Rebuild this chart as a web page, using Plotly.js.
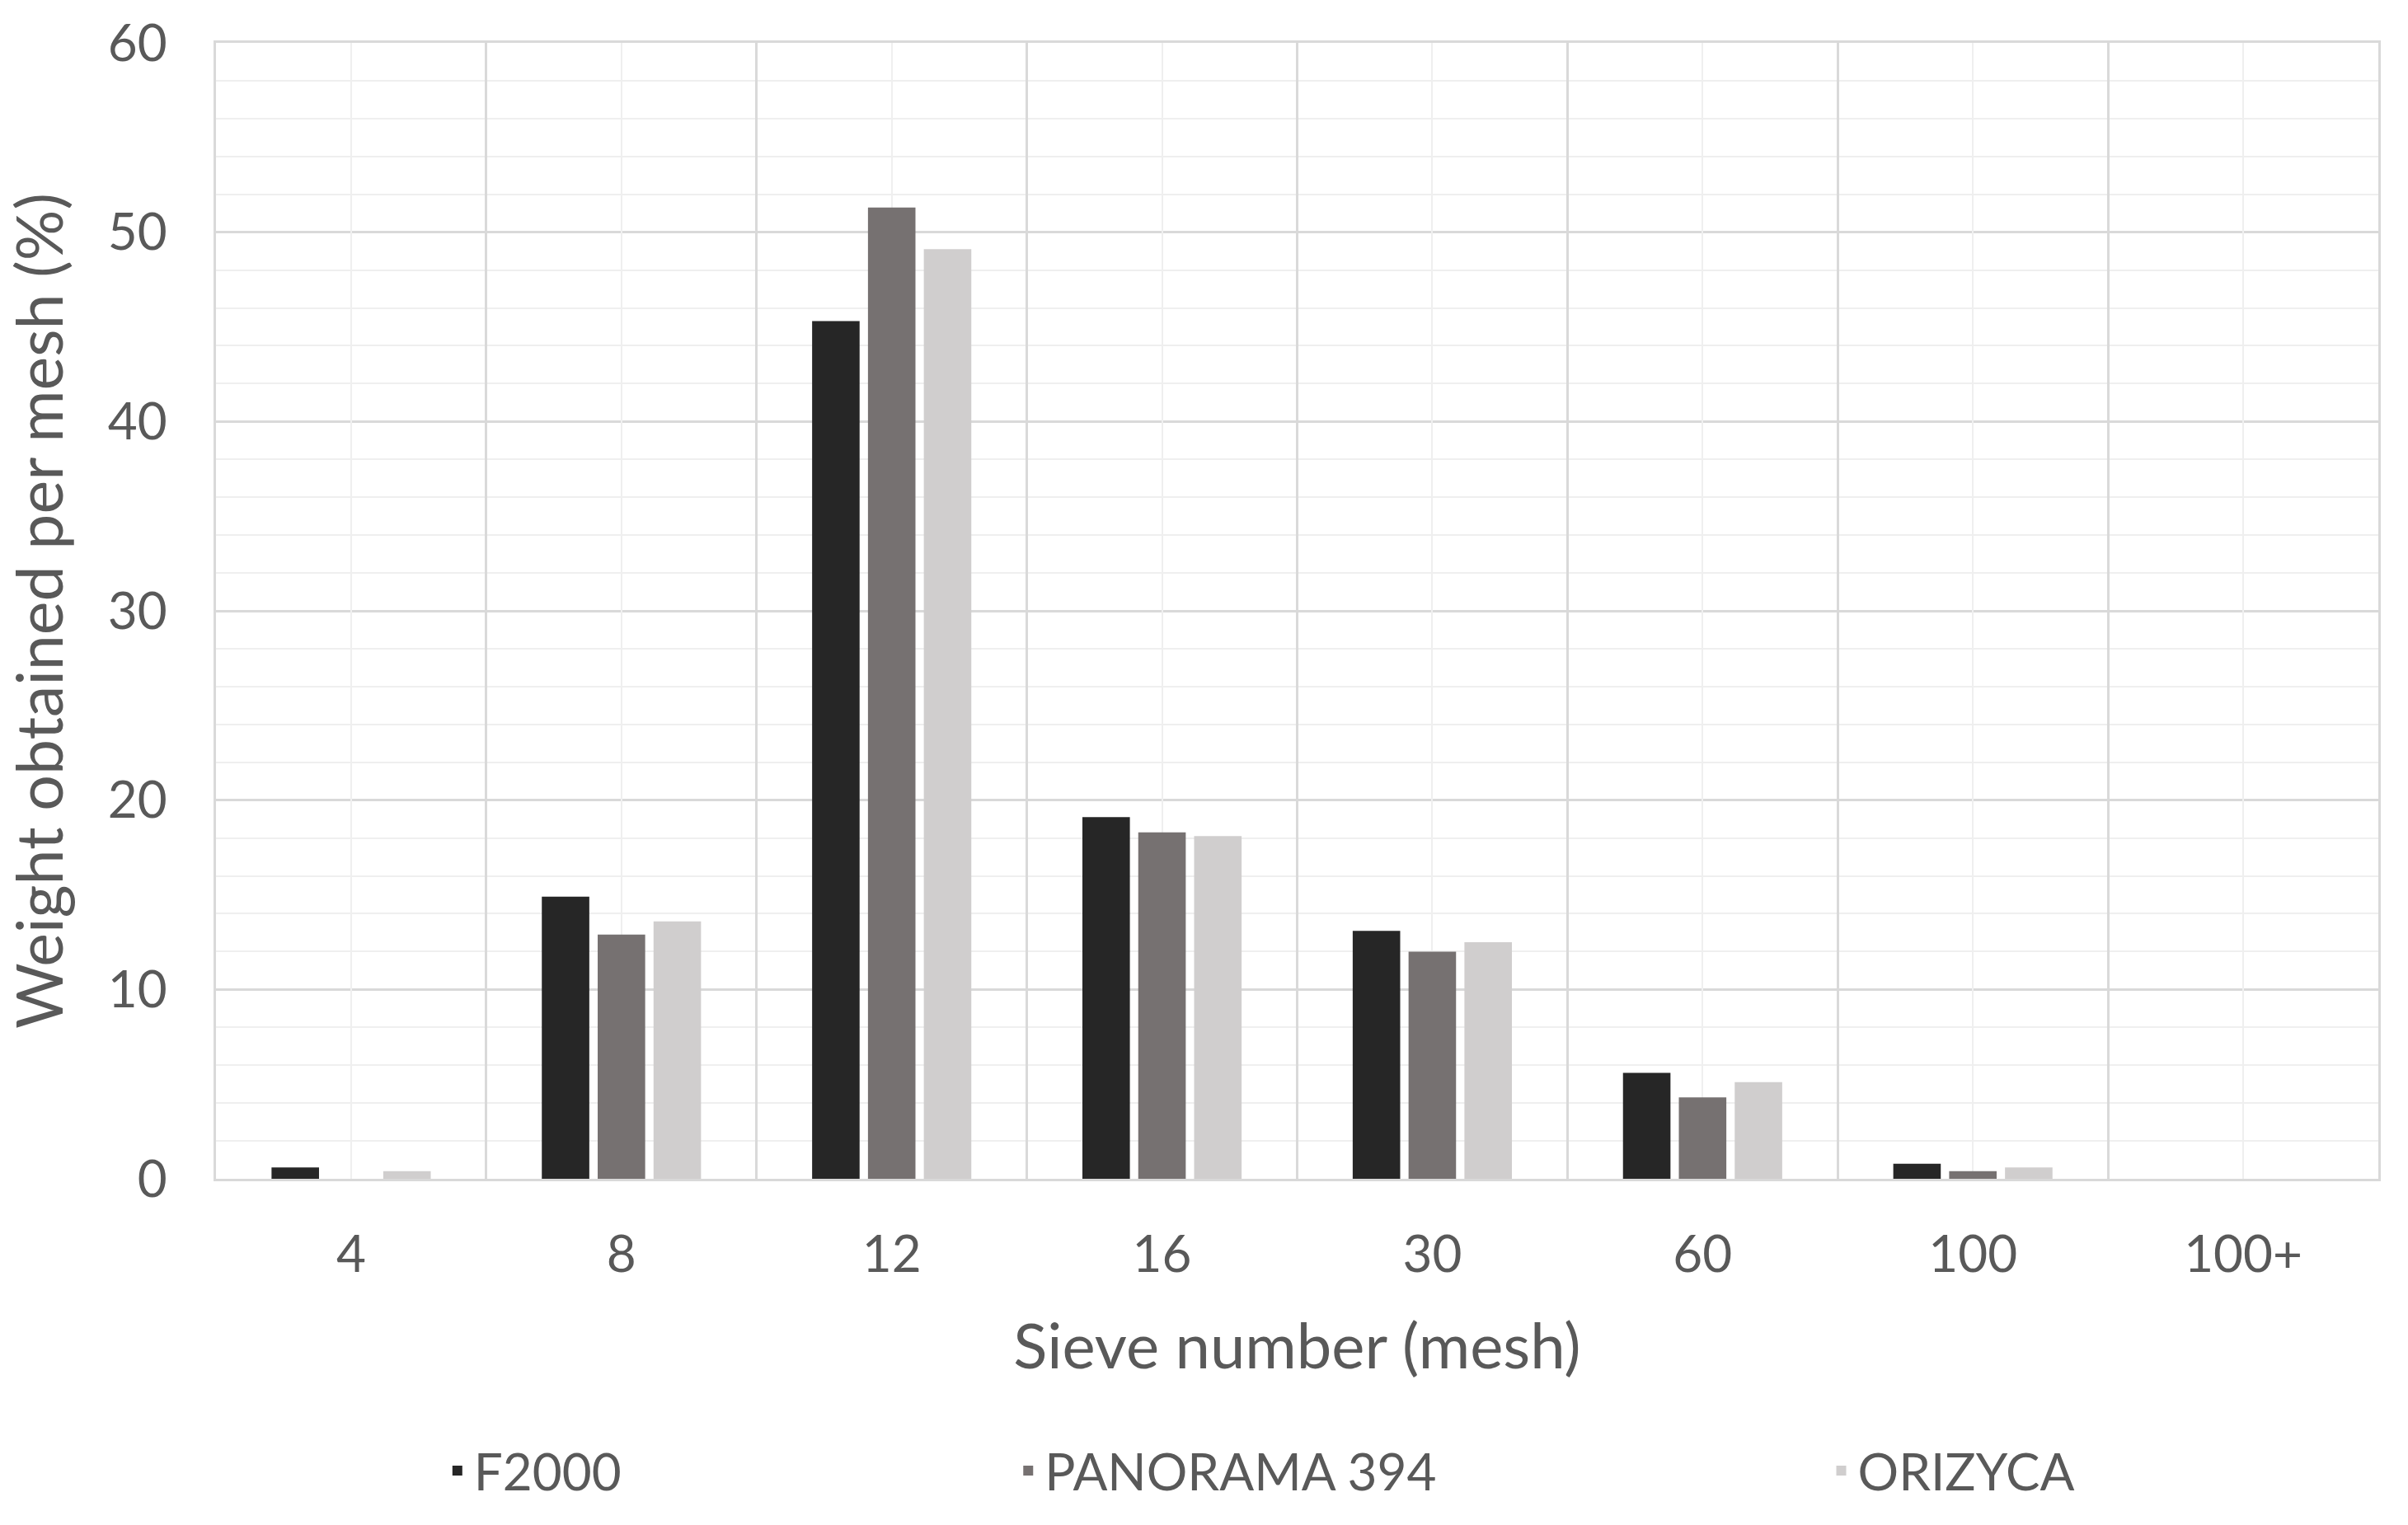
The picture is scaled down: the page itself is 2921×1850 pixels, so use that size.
<!DOCTYPE html>
<html>
<head>
<meta charset="utf-8">
<script src="https://cdn.plot.ly/plotly-3.0.1.min.js"></script>
<style>html,body{margin:0;padding:0;background:#fff;}#chart{width:2921px;height:1850px;}</style>
</head>
<body>
<div id="chart"></div>
<script>
const categories = ["4", "8", "12", "16", "30", "60", "100", "100+"];
const f2000 = [0.6, 14.9, 45.3, 19.1, 13.1, 5.6, 0.8, 0];
const panorama394 = [0, 12.9, 51.3, 18.3, 12.0, 4.3, 0.4, 0];
const orizyca = [0.4, 13.6, 49.1, 18.1, 12.5, 5.1, 0.6, 0];
const yTicks = [0, 10, 20, 30, 40, 50, 60];

const FONT = "Lato, 'Open Sans', sans-serif";
const TXT = "#595959";

const traces = [
  {type: "bar", name: "F2000", x: categories, y: f2000, marker: {color: "#262626"}, legend: "legend"},
  {type: "bar", name: "PANORAMA 394", x: categories, y: panorama394, marker: {color: "#767171"}, legend: "legend2"},
  {type: "bar", name: "ORIZYCA", x: categories, y: orizyca, marker: {color: "#d0cece"}, legend: "legend3"},
  // invisible helper on overlay axis to draw category-centre gridlines
  {type: "bar", x: categories, y: categories.map(() => null), xaxis: "x2", showlegend: false, hoverinfo: "skip"}
];

const legendBase = {
  orientation: "h", yanchor: "middle", xanchor: "left", y: -0.257,
  font: {family: FONT, size: 62, color: TXT}, bgcolor: "rgba(0,0,0,0)"
};

const layout = {
  width: 2921, height: 1850,
  paper_bgcolor: "#ffffff", plot_bgcolor: "#ffffff",
  margin: {l: 262, r: 36, t: 52, b: 420},
  barmode: "group", bargap: 0.38, bargroupgap: 0.15,
  font: {family: FONT, color: TXT},
  xaxis: {
    type: "category", categoryarray: categories,
    tickson: "boundaries", showgrid: true, gridcolor: "#d9d9d9", gridwidth: 3,
    ticks: "", ticklabelstandoff: 36,
    tickfont: {family: FONT, size: 62, color: TXT},
    showline: true, linecolor: "#d9d9d9", linewidth: 3, mirror: true,
    zeroline: false,
    title: {text: "Sieve number (mesh)", font: {family: FONT, size: 76, color: TXT}, standoff: 52}
  },
  xaxis2: {
    type: "category", categoryarray: categories, overlaying: "x", matches: "x",
    showgrid: true, gridcolor: "#efefef", gridwidth: 2, showticklabels: false, ticks: "",
    showline: false, zeroline: false
  },
  yaxis: {
    range: [0, 60], tickvals: yTicks, ticktext: yTicks.map(String),
    showgrid: true, gridcolor: "#d9d9d9", gridwidth: 3,
    minor: {dtick: 2, showgrid: true, gridcolor: "#efefef", gridwidth: 2, ticks: ""},
    ticks: "", ticklabelstandoff: 44,
    tickfont: {family: FONT, size: 62, color: TXT},
    showline: true, linecolor: "#d9d9d9", linewidth: 3, mirror: true,
    zeroline: false,
    title: {text: "Weight obtained per mesh (%)", font: {family: FONT, size: 77, color: TXT}, standoff: 40}
  },
  legend: Object.assign({}, legendBase, {x: 0.104}),
  legend2: Object.assign({}, legendBase, {x: 0.368}),
  legend3: Object.assign({}, legendBase, {x: 0.744}),
  showlegend: true
};

Plotly.newPlot("chart", traces, layout, {displayModeBar: false, staticPlot: true});
</script>
</body>
</html>
